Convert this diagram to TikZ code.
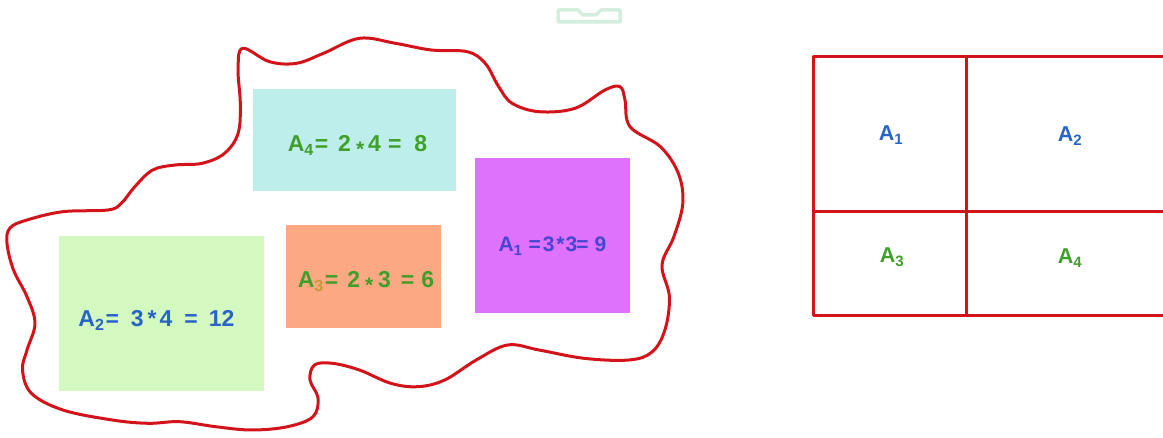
\documentclass[tikz,border=0pt]{standalone}
\usepackage{fontspec}
\setmainfont{Liberation Sans}
\definecolor{boxcyan}{HTML}{BEEEEC}
\definecolor{boxpurple}{HTML}{DE72FC}
\definecolor{boxorange}{HTML}{FCA882}
\definecolor{boxgreen}{HTML}{D4F9C0}
\definecolor{txtgreen}{HTML}{3EA028}
\definecolor{txtblue}{HTML}{2864C8}
\definecolor{txtviolet}{HTML}{4646D2}
\definecolor{subbrown}{HTML}{C89A3C}
\definecolor{blobred}{HTML}{D2141A}
\definecolor{faint}{HTML}{D2EEDC}
\newcommand\hg[1]{\hspace{#1pt}}
\newcommand\lowstar{\raisebox{-4.5pt}{\fontsize{21}{22}\selectfont *}}
\begin{document}
\begin{tikzpicture}[x=1pt,y=-1pt,
  areabox/.style={draw=none, inner sep=0pt, anchor=north west},
  eqlabel/.style={inner sep=0pt, anchor=base, font=\fontsize{23}{26}\selectfont\bfseries},
  eqsmall/.style={inner sep=0pt, anchor=base, font=\fontsize{21}{25}\selectfont\bfseries},
  celllabel/.style={inner sep=0pt, anchor=base, font=\fontsize{21.5}{25}\selectfont\bfseries},
  redline/.style={draw=blobred, line width=3pt, line join=round, line cap=round}]
\useasboundingbox (0,0) rectangle (1163,438);

% faint mark at top
\draw[faint, line width=3.5pt, line join=round]
  (558,10) -- (578,10) -- (583,15) -- (596,15) -- (601,10) -- (620,10) -- (620,22) -- (558,22) -- cycle;

% blob outline
\draw[redline] plot[smooth cycle, tension=0.6] coordinates {
 (242.6,48.3) (269.5,61.7) (296.5,63.3) (323.5,53.3) (359.4,38.3) (395.3,43.3)
 (431.3,50) (467.2,51.7) (485.2,63.3) (498.7,86.7) (512.1,103.3) (539.1,111.7)
 (575,108.3) (605,90) (620,86.7) (625,100) (630,126.7) (660.4,146.7)
 (678.3,173.3) (682.8,203.3) (673.9,236.7) (662,265) (669.4,296.7) (664.9,330)
 (652,352) (628.9,360) (584,358.3) (539,350) (507.6,345) (476.2,360)
 (444.7,380) (417.8,386.7) (390.8,383.3) (359.4,370) (332.4,363.3) (314.5,365)
 (310,380) (318,398) (313,416.7) (287.5,426.7) (251.6,430) (215.6,426.7)
 (179.7,421.7) (148.2,423.3) (112.3,420) (62.9,410) (31.4,393.3) (22.5,370)
 (27,350) (35,323.3) (27,296.7) (13.5,270) (7,243.3) (10,228) (27,220)
 (62.9,211.7) (107.8,210) (121.3,203.3) (134.8,186.7) (152.7,170) (175.2,165)
 (202.2,163.3) (224.6,153.3) (238.1,133.3) (240.3,103.3) (238.1,70)};

% coloured areas
\node[areabox, fill=boxcyan, minimum width=203pt, minimum height=102pt] (b4) at (253,89) {};
\node[areabox, fill=boxpurple, minimum width=155pt, minimum height=155pt] (b1) at (475,158) {};
\node[areabox, fill=boxorange, minimum width=155pt, minimum height=103pt] (b3) at (286,225) {};
\node[areabox, fill=boxgreen, minimum width=205pt, minimum height=155pt] (b2) at (59,236) {};

\node[eqlabel, text=txtgreen] (t4) at (357.5,152)
  {A\textsubscript{4}\hg{1}=\hg{10}2\hg{5}\lowstar\hg{4}4\hg{7}=\hg{13}8};
\node[eqsmall, text=txtviolet] (t1) at (552.5,252)
  {A\textsubscript{1}\hg{6}=\hg{2}3\hg{2}*\hg{1}3\hg{-1}=\hg{6}9};
\node[eqlabel, text=txtgreen] (t3) at (366,288)
  {A\textsubscript{\color{subbrown}3}\hg{1}=\hg{9}2\hg{5}\lowstar\hg{5}3\hg{10}=\hg{7}6};
\node[eqlabel, text=txtblue] (t2) at (156.5,327)
  {A\textsubscript{2}\hg{1}=\hg{12}3\hg{4}*\hg{3}4\hg{12}=\hg{11}12};

% right grid
\coordinate (gtl) at (813,57);
\coordinate (gbl) at (813,316);
\coordinate (gtm) at (966,57);
\coordinate (gbm) at (966,316);
\coordinate (gml) at (813,212);
\coordinate (gtr) at (1170,57);
\coordinate (gbr) at (1170,316);
\coordinate (gmr) at (1170,212);
\draw[redline, line cap=butt] (gtr) -- (gtl) -- (gbl) -- (gbr);
\draw[redline, line cap=butt] (gtm) -- (gbm);
\draw[redline, line cap=butt] (gml) -- (gmr);

\node[celllabel, text=txtblue] (c1) at (891,141) {A\textsubscript{1}};
\node[celllabel, text=txtblue] (c2) at (1070,142) {A\textsubscript{2}};
\node[celllabel, text=txtgreen] (c3) at (892,263) {A\textsubscript{3}};
\node[celllabel, text=txtgreen] (c4) at (1070,264) {A\textsubscript{4}};
\end{tikzpicture}
\end{document}
